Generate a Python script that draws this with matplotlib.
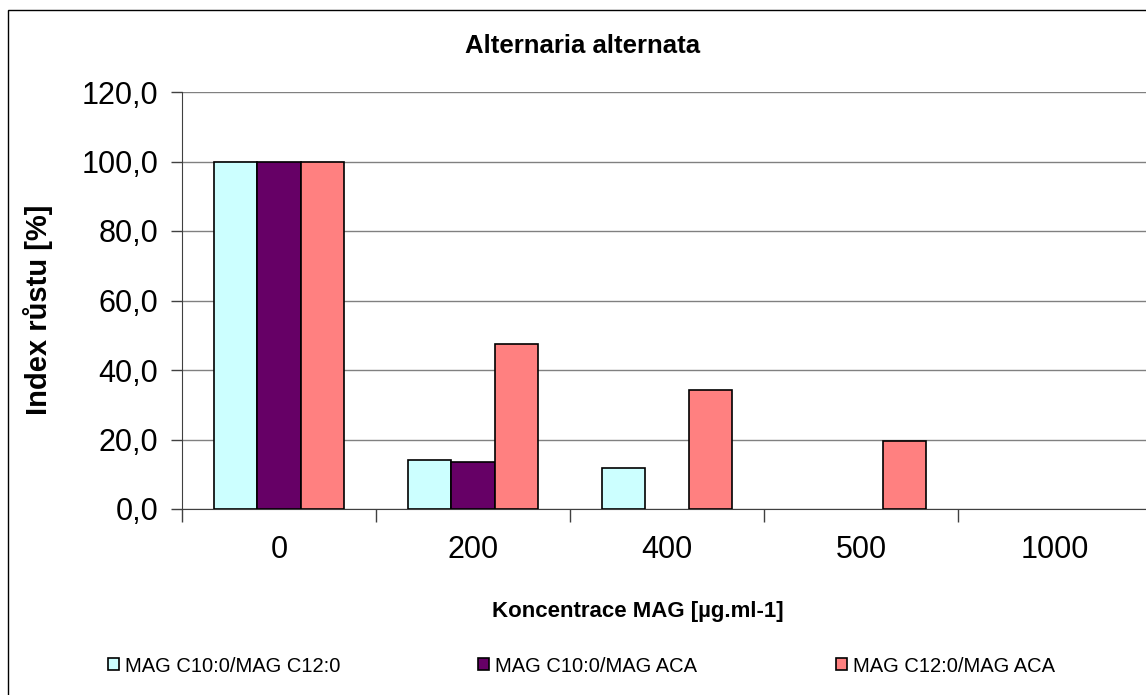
import matplotlib
matplotlib.use("Agg")
import matplotlib.pyplot as plt
from matplotlib.patches import Rectangle
import numpy as np

plt.rcParams['font.family'] = ['Liberation Sans', 'DejaVu Sans']

categories = ["0", "200", "400", "500", "1000"]
series_names = ["MAG C10:0/MAG C12:0", "MAG C10:0/MAG ACA", "MAG C12:0/MAG ACA"]
c10_c12 = [100.0, 14.1, 11.9, 0.0, 0.0]
c10_aca = [100.0, 13.6, 0.0, 0.0, 0.0]
c12_aca = [100.0, 47.5, 34.2, 19.7, 0.0]
series_values = [c10_c12, c10_aca, c12_aca]
colors = ["#CCFFFF", "#660066", "#FF8080"]
y_ticks = [0, 20, 40, 60, 80, 100, 120]

W, H = 1146, 695
fig = plt.figure(figsize=(W / 100, H / 100), dpi=100)

# outer chart frame (runs past the right and bottom edges)
fig.patches.append(Rectangle((8 / W, -0.05), 1.2, 1 - 10 / H + 0.05,
                             transform=fig.transFigure, fill=False,
                             edgecolor="black", linewidth=1.0, zorder=0))

left, right, top, bottom = 182 / W, 1152 / W, 1 - 92 / H, 1 - 509 / H
ax = fig.add_axes([left, bottom, right - left, top - bottom])

n = len(categories)
centers = np.arange(n) + 0.5
bw = 0.222
containers = []
for k, (vals, col) in enumerate(zip(series_values, colors)):
    x = centers + (k - 1) * bw
    lw = [1.2 if v > 0 else 0 for v in vals]
    bc = ax.bar(x, vals, width=bw, color=col, edgecolor="black",
                linewidth=lw, zorder=3, label=series_names[k])
    containers.append(bc)

ax.set_xlim(0, n)
ax.set_ylim(0, 120)
ax.set_yticks(y_ticks)
ax.set_yticklabels([f"{v:.1f}".replace(".", ",") for v in y_ticks], fontsize=22)
ax.yaxis.grid(True, color="#808080", linewidth=1.0, zorder=0)
ax.set_axisbelow(True)

# category boundaries as major ticks, labels centred on minor ticks
ax.set_xticks(np.arange(n + 1))
ax.set_xticklabels([])
ax.set_xticks(centers, minor=True)
ax.set_xticklabels(categories, minor=True, fontsize=22)
ax.tick_params(axis="x", which="major", length=9, width=1.0, color="#404040")
ax.tick_params(axis="x", which="minor", length=0, pad=19)
ax.tick_params(axis="y", length=8, width=1.0, color="#404040", pad=9)

for s in ("top", "right"):
    ax.spines[s].set_visible(False)
ax.spines["left"].set_color("#404040")
ax.spines["bottom"].set_color("#404040")
ax.patch.set_alpha(0)

fig.text(583 / W, 1 - 46 / H, "Alternaria alternata", fontsize=18.5,
         fontweight="bold", ha="center", va="center")
fig.text(638 / W, 1 - 612 / H, "Koncentrace MAG [µg.ml-1]", fontsize=16,
         fontweight="bold", ha="center", va="center")
fig.text(38 / W, 1 - 310 / H, "Index růstu [%]", fontsize=21,
         fontweight="bold", ha="center", va="center", rotation=90)

legend_x = [108, 478, 836]
for bc, name, lx in zip(containers, series_names, legend_x):
    fig.legend([bc], [name], loc="center left",
               bbox_to_anchor=(lx / W, 1 - 666 / H), frameon=False,
               fontsize=14.5, handlelength=0.55, handleheight=0.55,
               handletextpad=0.3, borderpad=0, borderaxespad=0)

fig.savefig("out.png", dpi=100)
